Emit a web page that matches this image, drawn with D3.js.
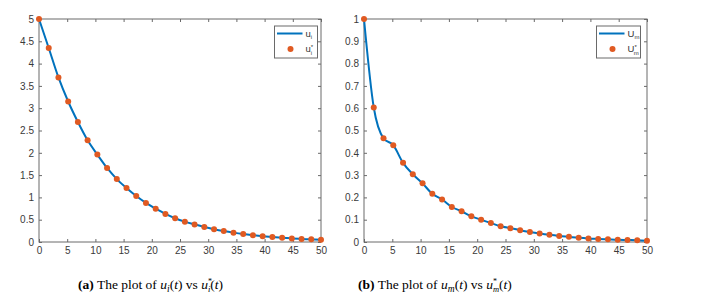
<!DOCTYPE html>
<html>
<head>
<meta charset="utf-8">
<script src="https://cdn.jsdelivr.net/npm/d3@7"></script>
<style>
  body { margin: 0; background: #fff; }
  svg { display: block; }
  .tick text { font-family: "Liberation Sans", Arial, sans-serif; font-size: 10px; fill: #3a3a3a; }
  .tick line { stroke: #6a6a6a; }
  .caption { font-family: "Liberation Serif", "Times New Roman", serif; font-size: 13.5px; fill: #000; }
  .leg { font-family: "Liberation Sans", Arial, sans-serif; fill: #333; }
</style>
</head>
<body>
<svg id="chart"></svg>
<script>
const w = 715;
const h = 302;

// marker times: 30 points over 0..50
const tValues = d3.range(30).map((k) => (50 * k) / 29);

// left panel: u_i(t)
const uiValues = [5.0, 4.35, 3.69, 3.15, 2.69, 2.28, 1.96, 1.66, 1.41, 1.21,
  1.03, 0.876, 0.748, 0.629, 0.532, 0.456, 0.395, 0.337, 0.288, 0.246,
  0.21, 0.179, 0.153, 0.13, 0.111, 0.095, 0.081, 0.069, 0.059, 0.05];

// right panel: u_m(t)
const umValues = [1.0, 0.603, 0.465, 0.434, 0.355, 0.304, 0.263, 0.216, 0.191, 0.157,
  0.138, 0.115, 0.1, 0.085, 0.071, 0.062, 0.053, 0.045, 0.038, 0.032,
  0.027, 0.023, 0.019, 0.016, 0.014, 0.012, 0.01, 0.009, 0.008, 0.006];

const xTicks = d3.range(0, 51, 5);
const yTicksLeft = d3.range(0, 11).map((d) => d * 0.5);
const yTicksRight = d3.range(0, 11).map((d) => d / 10);

const lineColor = "#0072bd";
const markColor = "#e05a22";

const svg = d3.select("#chart").attr("width", w).attr("height", h);

const drawPanel = (opts) => {
  const { left, right, top, bottom, yMax, yTicks, values, legend } = opts;

  const xScale = d3.scaleLinear().domain([0, 50]).range([left, right]);
  const yScale = d3.scaleLinear().domain([0, yMax]).range([bottom, top]);

  const g = svg.append("g");

  g.append("g")
    .attr("transform", "translate(0," + bottom + ")")
    .call(d3.axisBottom(xScale).tickValues(xTicks).tickSizeInner(-3).tickSizeOuter(0).tickPadding(5))
    .call((a) => a.select(".domain").remove());

  g.append("g")
    .attr("transform", "translate(0," + top + ")")
    .call(d3.axisTop(xScale).tickValues(xTicks).tickSizeInner(-3).tickSizeOuter(0).tickFormat(""))
    .call((a) => a.select(".domain").remove());

  g.append("g")
    .attr("transform", "translate(" + left + ",0)")
    .call(d3.axisLeft(yScale).tickValues(yTicks).tickSizeInner(-3).tickSizeOuter(0).tickPadding(5).tickFormat(d3.format("~g")))
    .call((a) => a.select(".domain").remove());

  g.append("g")
    .attr("transform", "translate(" + right + ",0)")
    .call(d3.axisRight(yScale).tickValues(yTicks).tickSizeInner(-3).tickSizeOuter(0).tickFormat(""))
    .call((a) => a.select(".domain").remove());

  g.append("rect")
    .attr("x", left)
    .attr("y", top)
    .attr("width", right - left)
    .attr("height", bottom - top)
    .attr("fill", "none")
    .attr("stroke", "#6a6a6a")
    .attr("stroke-width", 1);

  const line = d3.line()
    .x((d, i) => xScale(tValues[i]))
    .y((d) => yScale(d))
    .curve(d3.curveMonotoneX);

  g.append("path")
    .datum(values)
    .attr("d", line)
    .attr("fill", "none")
    .attr("stroke", lineColor)
    .attr("stroke-width", 2);

  g.selectAll("circle.mark")
    .data(values)
    .enter()
    .append("circle")
    .attr("class", "mark")
    .attr("cx", (d, i) => xScale(tValues[i]))
    .attr("cy", (d) => yScale(d))
    .attr("r", 3)
    .attr("fill", markColor);

  // legend
  const lg = g.append("g");
  lg.append("rect")
    .attr("x", legend.x)
    .attr("y", legend.y)
    .attr("width", legend.w)
    .attr("height", 32)
    .attr("fill", "#fff")
    .attr("stroke", "#6a6a6a")
    .attr("stroke-width", 1);
  lg.append("line")
    .attr("x1", legend.x + 2.5)
    .attr("x2", legend.x + 28)
    .attr("y1", legend.y + 7.5)
    .attr("y2", legend.y + 7.5)
    .attr("stroke", lineColor)
    .attr("stroke-width", 2);
  lg.append("circle")
    .attr("cx", legend.x + 16)
    .attr("cy", legend.y + 23)
    .attr("r", 3)
    .attr("fill", markColor);

  const t1 = lg.append("text").attr("class", "leg")
    .attr("x", legend.x + 31).attr("y", legend.y + 10.5).style("font-size", "9.5px");
  t1.append("tspan").text(legend.base);
  t1.append("tspan").text(legend.sub).attr("dy", 2.5).style("font-size", "6px");

  const t2 = lg.append("text").attr("class", "leg")
    .attr("x", legend.x + 31).attr("y", legend.y + 26).style("font-size", "9.5px");
  t2.append("tspan").text(legend.base);
  t2.append("tspan").text("*").attr("dy", -3).style("font-size", "6px");
  t2.append("tspan").text(legend.sub).attr("dx", legend.subBack).attr("dy", 6).style("font-size", "6px");
};

drawPanel({
  left: 39, right: 321, top: 19, bottom: 242,
  yMax: 5, yTicks: yTicksLeft, values: uiValues,
  legend: { x: 274.5, y: 26, w: 43, base: "u", sub: "i", subBack: -2.5 },
});

drawPanel({
  left: 364, right: 647, top: 19, bottom: 242,
  yMax: 1, yTicks: yTicksRight, values: umValues,
  legend: { x: 596.5, y: 26, w: 44, base: "U", sub: "m", subBack: -3 },
});

// captions
const caption = (x, label, v) => {
  const t = svg.append("text").attr("class", "caption").attr("x", x).attr("y", 289);
  t.append("tspan").text("(" + label + ")").style("font-weight", "bold");
  t.append("tspan").text(" The plot of ");
  t.append("tspan").text("u").style("font-style", "italic");
  t.append("tspan").text(v).style("font-style", "italic").style("font-size", "9.5px").attr("dy", 2.5);
  t.append("tspan").text("(").attr("dy", -2.5);
  t.append("tspan").text("t").style("font-style", "italic");
  t.append("tspan").text(") vs ");
  t.append("tspan").text("u").style("font-style", "italic");
  t.append("tspan").text("*").style("font-size", "8px").attr("dy", -5);
  t.append("tspan").text(v).style("font-style", "italic").style("font-size", "8.5px")
    .attr("dx", -4).attr("dy", 8);
  t.append("tspan").text("(").attr("dy", -3);
  t.append("tspan").text("t").style("font-style", "italic");
  t.append("tspan").text(")");
};

caption(78, "a", "i");
caption(358, "b", "m");
</script>
</body>
</html>
